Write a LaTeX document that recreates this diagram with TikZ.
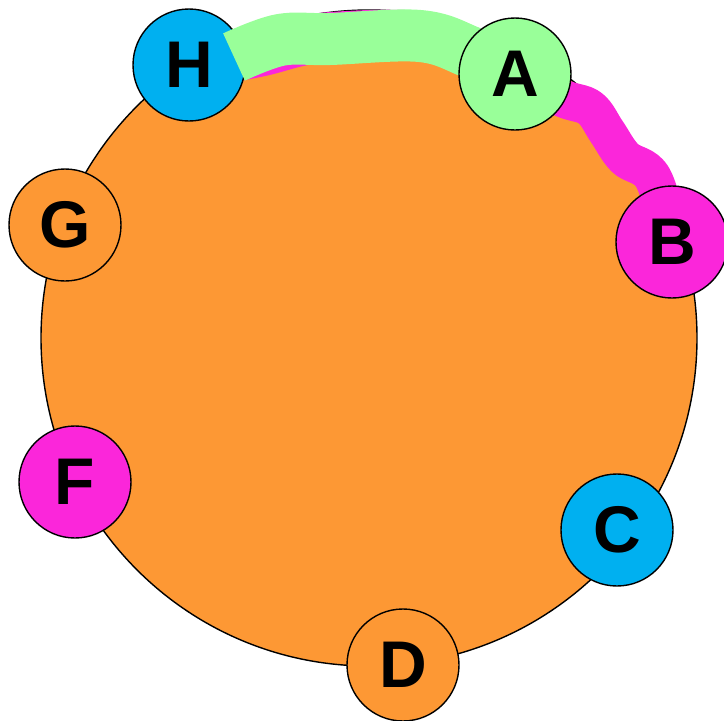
\documentclass[tikz,border=0pt]{standalone}
\usepackage{fontspec}
\setmainfont{Liberation Sans}
\definecolor{ringorange}{RGB}{253,152,52}
\definecolor{peerblue}{RGB}{0,176,240}
\definecolor{peergreen}{RGB}{153,255,153}
\definecolor{peerpink}{RGB}{251,38,218}
\begin{document}
\begin{tikzpicture}[x=1pt,y=-1pt,
  peer/.style={circle, draw=black, line width=1.4pt, minimum size=112pt,
    inner sep=0pt, font=\fontsize{66}{66}\selectfont\bfseries},
  ring/.style={circle, draw=black, line width=1.4pt, fill=ringorange,
    minimum size=656pt, inner sep=0pt},
  pinkband/.style={draw=peerpink, line cap=round, line join=round},
  greenband/.style={draw=peergreen, line width=52pt, line cap=butt, line join=round}]
\useasboundingbox (0,0) rectangle (724,721);

% the ring
\node[ring] (ring) at (369,338) {};

% peer positions
\coordinate (hpos) at (189,65);
\coordinate (apos) at (515,74);
\coordinate (bpos) at (672,242);

% pink route H -> A -> B
\coordinate (p1) at (258,52);
\coordinate (p2) at (320,38);
\coordinate (p3) at (420,36);
\coordinate (p4) at (474,54);
\draw[pinkband, line width=50pt] plot[smooth, tension=0.6]
  coordinates {(hpos) (p1) (p2) (p3) (p4) (apos)};
\coordinate (q1) at (562,98);
\coordinate (q2) at (590,108);
\coordinate (q3) at (607,132);
\coordinate (q4) at (625,158);
\coordinate (q5) at (653,178);
\draw[pinkband, line width=38pt] plot[smooth, tension=0.6]
  coordinates {(apos) (q1) (q2) (q3) (q4) (q5) (bpos)};

% peers
\node[peer, fill=peerblue] (H) at (hpos) {H};

% green route H -> A
\coordinate (g0) at (234,57);
\coordinate (g1) at (280,40);
\coordinate (g2) at (330,39);
\coordinate (g3) at (420,36);
\coordinate (g4) at (470,52);
\draw[greenband] plot[smooth, tension=0.6]
  coordinates {(g0) (g1) (g2) (g3) (g4) (apos)};

\node[peer, fill=peergreen] (A) at (apos) {A};
\node[peer, fill=peerpink] (B) at (bpos) {B};
\node[peer, fill=peerblue] (C) at (617,530) {C};
\node[peer, fill=ringorange] (D) at (403,665) {D};
\node[peer, fill=peerpink] (F) at (75,482) {F};
\node[peer, fill=ringorange] (G) at (65,225) {G};
\end{tikzpicture}
\end{document}
